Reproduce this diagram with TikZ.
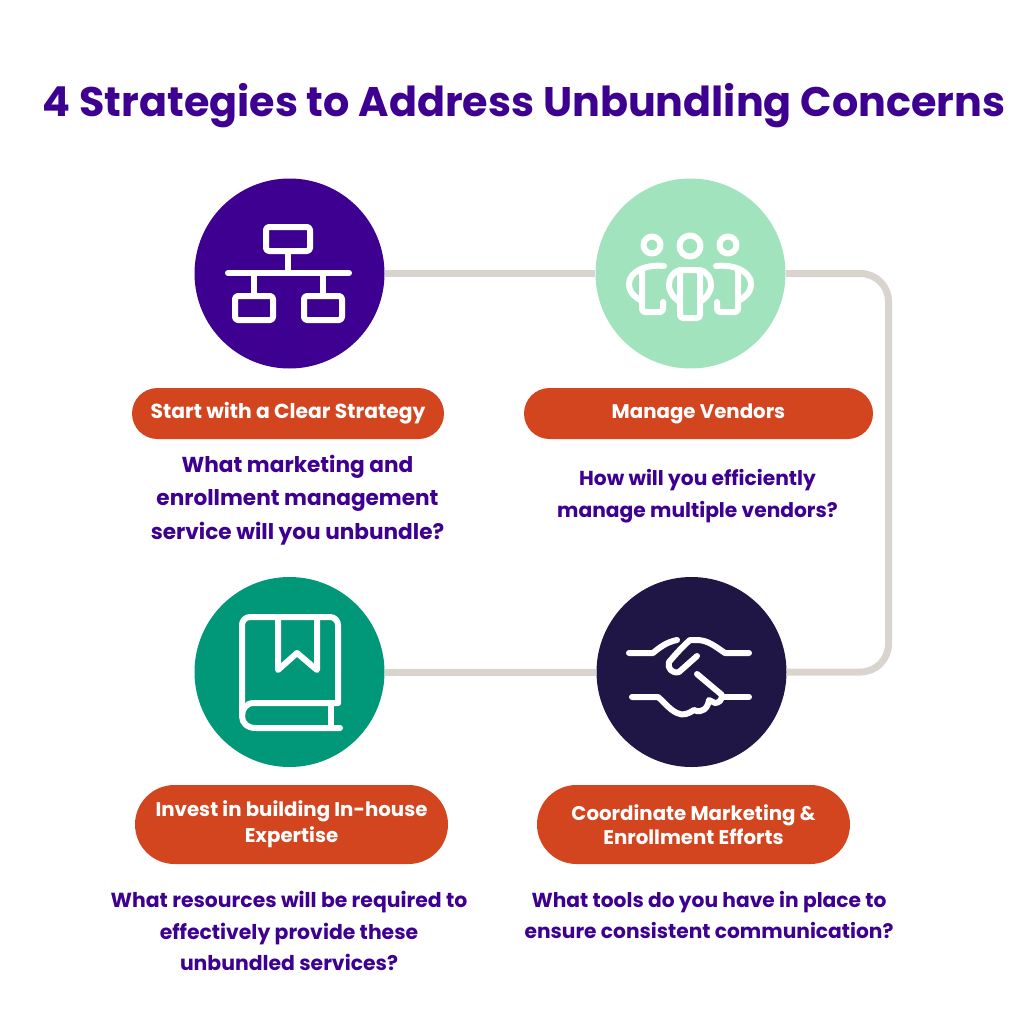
\documentclass[tikz,border=0pt]{standalone}
\usepackage{fontspec}
\usepackage{xcolor}
\setmainfont{Poppins}
\usetikzlibrary{positioning,calc,shapes.misc}
\definecolor{titlepurple}{RGB}{62, 0, 145}
\definecolor{mintgreen}{RGB}{161, 227, 188}
\definecolor{tealgreen}{RGB}{0, 152, 121}
\definecolor{darknavy}{RGB}{31, 22, 70}
\definecolor{pillorange}{RGB}{210, 69, 31}
\definecolor{railgray}{RGB}{217, 212, 206}
\def\px{0.02cm}
\tikzset{
    badge/.style={circle, minimum size=190*\px, inner sep=0pt},
    pill/.style={rounded rectangle, fill=pillorange, text=white, inner sep=0pt, align=center,
        font=\fontsize{11.25}{15}\selectfont\bfseries},
    question/.style={text=titlepurple, align=center, inner sep=0pt,
        font=\fontsize{11.6}{18.1}\selectfont\bfseries},
    rail/.style={railgray, line width=7*\px},
    glyph/.style={white, line width=6*\px, line cap=round, line join=round}
}

\begin{document}
\begin{tikzpicture}[x=\px, y=-\px]
    \useasboundingbox (0,0) rectangle (1024,1024);

    % Title
    \node[text=titlepurple, font=\fontsize{23.5}{28}\selectfont\bfseries, inner sep=0pt] (title) at (524,106) {4 Strategies to Address Unbundling Concerns};

    % Circles
    \node[badge, fill=titlepurple] (strategy) at (289.5,273.5) {};
    \node[badge, fill=mintgreen] (vendors) at (690.5,273.5) {};
    \node[badge, fill=tealgreen] (expertise) at (289.5,672) {};
    \node[badge, fill=darknavy] (efforts) at (691.5,672) {};

    % Connectors
    \coordinate (railtop) at (888.5,273.5);
    \coordinate (railbottom) at (888.5,672);
    \draw[rail] (strategy.east) -- (vendors.west);
    \draw[rail, rounded corners=28*\px] (vendors.east) -- (railtop) -- (railbottom) -- (efforts.east);
    \draw[rail] (efforts.west) -- (expertise.east);

    % Pills
    \node[pill, font=\fontsize{11.55}{15}\selectfont\bfseries, minimum width=312*\px, minimum height=51*\px] (strategypill) at (288,413.5) {Start with a Clear Strategy};
    \node[pill, minimum width=349*\px, minimum height=51*\px] (vendorspill) at (698.5,413.5) {Manage Vendors};
    \node[pill, minimum width=313*\px, minimum height=79*\px] (expertisepill) at (291.5,824.5) {Invest in building In-house\\Expertise};
    \node[pill, minimum width=313*\px, minimum height=79*\px] (effortspill) at (693.5,824.5) {Coordinate Marketing \&\\[-1pt]Enrollment Efforts};

    % Questions
    \node[question, font=\fontsize{12.3}{19}\selectfont\bfseries] (strategyq) at (297.5,500) {What marketing and\\enrollment management\\service will you unbundle?};
    \node[question, font=\fontsize{11.5}{18}\selectfont\bfseries] (vendorsq) at (697.5,496) {How will you efficiently\\manage multiple vendors?};
    \node[question] (expertiseq) at (289,931) {What resources will be required to\\effectively provide these\\unbundled services?};
    \node[question, font=\fontsize{11.5}{18}\selectfont\bfseries] (effortsq) at (709,915) {What tools do you have in place to\\ensure consistent communication?};

    % Network icon
    \draw[glyph, rounded corners=3*\px] (266,227) rectangle (310,251);
    \draw[glyph, rounded corners=3*\px] (235,296) rectangle (273,320);
    \draw[glyph, rounded corners=3*\px] (304,296) rectangle (342,320);
    \draw[glyph] (228,273) -- (349,273);
    \draw[glyph] (288,251) -- (288,273);
    \draw[glyph] (254,273) -- (254,296);
    \draw[glyph] (323,273) -- (323,296);

    % People icon
    \draw[glyph] (652,245) circle[radius=8.5];
    \draw[glyph] (690,246) circle[radius=10.5];
    \draw[glyph] (728,245) circle[radius=8.5];
    \draw[glyph] (664,266) .. controls (645,264) and (629,272) .. (629,284) .. controls (629,293) and (636,298) .. (642,301);
    \draw[glyph, rounded corners=3*\px] (642,270) -- (642,312) -- (663,312) -- (663,302);
    \draw[glyph] (716,266) .. controls (735,264) and (751,272) .. (751,284) .. controls (751,293) and (744,298) .. (738,301);
    \draw[glyph, rounded corners=3*\px] (738,270) -- (738,312) -- (717,312) -- (717,302);
    \draw[glyph, rounded corners=3*\px] (680,270) -- (680,318) -- (700,318) -- (700,270) -- cycle;
    \draw[glyph] (680,270) .. controls (672,272) and (669,279) .. (669,285) .. controls (669,293) and (675,299) .. (680,302);
    \draw[glyph] (700,270) .. controls (708,272) and (711,279) .. (711,285) .. controls (711,293) and (705,299) .. (700,302);

    % Book icon
    \draw[glyph, rounded corners=8*\px] (338,703) -- (338,617) -- (242,617) -- (242,716);
    \draw[glyph] (338,703) -- (254,703) .. controls (246,703) and (242,709) .. (242,716) .. controls (242,723) and (247,728) .. (256,728) -- (340,728);
    \draw[glyph] (331,706) -- (331,726);
    \draw[glyph] (278,617) -- (278,670) -- (297,653) -- (317,670) -- (317,617);

    % Handshake icon
    \draw[glyph] (629,653) -- (653,653) .. controls (660,647) and (667,642) .. (677,640);
    \draw[glyph] (749,653) -- (725,653) .. controls (716,647) and (708,640) .. (697,640) -- (690,640) .. controls (682,647) and (675,655) .. (669,662) .. controls (667,668) and (672,674) .. (679,672) -- (697,656);
    \draw[glyph] (697,674) -- (722,695) .. controls (722,700) and (719,703) .. (715,703) -- (709,700) .. controls (708,708) and (702,714) .. (694,710) .. controls (688,714) and (683,716) .. (677,713) .. controls (670,710) and (664,702) .. (658,697) -- (632,697);
    \draw[glyph] (722,697) -- (749,697);
\end{tikzpicture}
\end{document}
